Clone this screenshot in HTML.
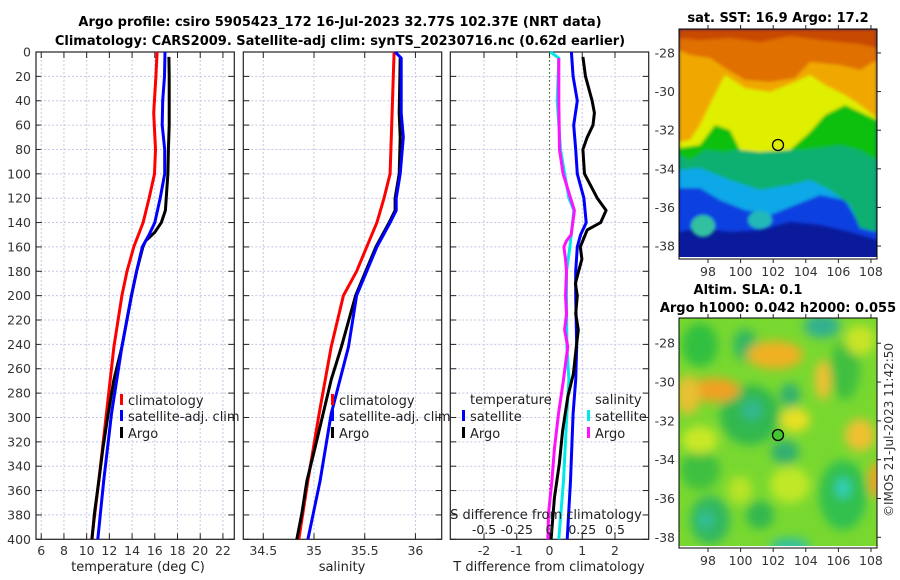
<!DOCTYPE html>
<html><head><meta charset="utf-8"><style>
body{margin:0;background:#fff;}
svg{display:block;font-family:"DejaVu Sans","Liberation Sans",sans-serif;}
</style></head><body>
<svg id="c" width="900" height="580" viewBox="0 0 900 580">
<defs>
<filter id="bl" x="-20%" y="-20%" width="140%" height="140%"><feGaussianBlur stdDeviation="5"/></filter>
<filter id="bl2" x="-20%" y="-20%" width="140%" height="140%"><feGaussianBlur stdDeviation="1.5"/></filter>
<clipPath id="m1"><rect x="679" y="29" width="198" height="230"/></clipPath>
<clipPath id="m2"><rect x="679" y="318" width="198" height="230"/></clipPath>
</defs>
<text x="340" y="26" text-anchor="middle" font-size="13" font-weight="bold">Argo profile: csiro 5905423_172 16-Jul-2023 32.77S 102.37E (NRT data)</text>
<text x="340" y="45" text-anchor="middle" font-size="13" font-weight="bold">Climatology: CARS2009. Satellite-adj clim: synTS_20230716.nc (0.62d earlier)</text>
<g id="plots"></g>
<!-- SST map -->
<g clip-path="url(#m1)">
<rect x="679" y="29" width="198" height="230" fill="#0a1a9a"/>
<g filter="url(#bl2)">
<path d="M679 29H877V240L850 232L820 225L790 222L760 230L730 232L700 228L679 232Z" fill="#1040e0"/>
<path d="M679 29H877V230L860 225L845 200L820 195L795 205L770 215L745 210L720 200L700 188L679 188Z" fill="#10a8e8"/>
<ellipse cx="703" cy="226" rx="12" ry="11" fill="#30c0a0"/>
<ellipse cx="760" cy="220" rx="12" ry="9" fill="#20b8b8"/>
<path d="M679 29H877V232L860 228L850 205L830 190L810 180L790 185L760 190L730 180L700 168L679 170Z" fill="#10b070"/>
<path d="M679 29H877V160L860 150L840 145L820 148L800 150L770 150L745 148L725 152L705 150L690 160L679 155Z" fill="#10c010"/>
<path d="M679 29H877V120L860 112L845 105L825 115L810 132L790 150L760 152L740 150L730 130L715 125L700 145L679 148Z" fill="#e0ee00"/>
<path d="M679 29H877V118L860 105L845 95L825 85L810 75L795 82L770 92L745 88L725 75L712 100L700 125L690 140L679 142Z" fill="#f0a800"/>
<path d="M679 29H877V60L860 70L840 65L810 62L795 78L770 82L745 80L725 68L710 58L690 55L679 50Z" fill="#e07000"/>
<path d="M679 29H877V48L860 44L820 40L790 36L760 42L730 38L700 40L679 38Z" fill="#c84800"/>
</g>
<rect x="679" y="257" width="198" height="2" fill="#fff"/>
</g>
<rect x="679" y="29" width="198" height="230" fill="none" stroke="#000" stroke-width="1"/>
<circle cx="778" cy="145" r="5.5" fill="none" stroke="#000" stroke-width="1.3"/>
<text x="778" y="22" text-anchor="middle" font-size="13" font-weight="bold">sat. SST: 16.9 Argo: 17.2</text>
<!-- SLA map -->
<g clip-path="url(#m2)">
<rect x="679" y="318" width="198" height="230" fill="#78d830"/>
<g filter="url(#bl)">
<ellipse cx="700" cy="345" rx="18" ry="22" fill="#30c040"/>
<ellipse cx="745" cy="345" rx="12" ry="16" fill="#30b860"/>
<ellipse cx="822" cy="326" rx="18" ry="12" fill="#30b090"/>
<ellipse cx="750" cy="415" rx="30" ry="30" fill="#30b850"/>
<ellipse cx="752" cy="410" rx="10" ry="10" fill="#30b890"/>
<ellipse cx="790" cy="395" rx="10" ry="12" fill="#30b070"/>
<ellipse cx="845" cy="370" rx="15" ry="30" fill="#40c040"/>
<ellipse cx="700" cy="470" rx="20" ry="20" fill="#40c040"/>
<ellipse cx="710" cy="520" rx="20" ry="24" fill="#30b860"/>
<ellipse cx="843" cy="495" rx="24" ry="35" fill="#30c050"/>
<ellipse cx="843" cy="488" rx="7" ry="10" fill="#30d0c0"/>
<ellipse cx="706" cy="520" rx="7" ry="8" fill="#30c0a0"/>
<ellipse cx="785" cy="452" rx="14" ry="12" fill="#30b070"/>
<ellipse cx="760" cy="515" rx="14" ry="14" fill="#30b850"/>
<ellipse cx="790" cy="546" rx="20" ry="8" fill="#30c0a0"/>
<ellipse cx="775" cy="355" rx="28" ry="14" fill="#f0b020"/>
<ellipse cx="715" cy="390" rx="25" ry="12" fill="#f0a020"/>
<ellipse cx="688" cy="395" rx="12" ry="20" fill="#e8c030"/>
<ellipse cx="823" cy="380" rx="8" ry="20" fill="#f0c030"/>
<ellipse cx="795" cy="420" rx="15" ry="12" fill="#e8e020"/>
<ellipse cx="860" cy="435" rx="15" ry="16" fill="#f0c030"/>
<ellipse cx="877" cy="480" rx="8" ry="18" fill="#f0a020"/>
<ellipse cx="700" cy="440" rx="18" ry="14" fill="#c8e828"/>
<ellipse cx="790" cy="485" rx="20" ry="18" fill="#c0e828"/>
<ellipse cx="740" cy="490" rx="12" ry="14" fill="#b8e428"/>
<ellipse cx="860" cy="340" rx="15" ry="15" fill="#c8e428"/>
</g>
<rect x="679" y="546" width="198" height="2" fill="#fff"/>
</g>
<rect x="679" y="318" width="198" height="230" fill="none" stroke="#000" stroke-width="1"/>
<circle cx="778" cy="435" r="5.5" fill="#40c830" stroke="#000" stroke-width="1.3"/>
<text x="748" y="294" text-anchor="middle" font-size="13" font-weight="bold">Altim. SLA: 0.1</text>
<text x="778" y="312" text-anchor="middle" font-size="13" font-weight="bold">Argo h1000: 0.042 h2000: 0.055</text>
<text transform="translate(893,430) rotate(-90)" text-anchor="middle" font-size="12" fill="#333">©IMOS 21-Jul-2023 11:42:50</text>
<g id="maps"></g>
</svg>
<script>
// ---- data ----
const tClimDepth = [0,20,50,80,100,120,140,160,180,200,242,297,352,400];
const tClimVal   = [16.2,16.1,15.9,16.06,15.97,15.5,14.97,14.15,13.55,13.1,12.4,11.74,11.07,10.44];
const tSatDepth  = [0,20,40,60,80,100,120,140,150,160,180,200,242,297,352,400];
const tSatVal    = [16.9,16.85,16.7,16.65,16.87,16.87,16.48,16.0,15.5,14.9,14.4,13.94,13.1,12.19,11.5,10.98];
const tArgoDepth = [4,20,60,80,100,130,140,148,155,160,180,200,242,269,297,325,352,379,400];
const tArgoVal   = [17.24,17.27,17.27,17.2,17.15,16.93,16.57,16.0,15.2,14.95,14.4,13.95,13.1,12.4,11.9,11.44,11.07,10.68,10.47];
const sClimDepth = [0,50,100,120,140,160,180,200,242,297,352,400];
const sClimVal   = [35.79,35.77,35.75,35.69,35.62,35.52,35.42,35.29,35.17,35.05,34.94,34.85];
const sSatDepth  = [0,5,50,70,100,120,130,140,160,180,200,242,297,352,400];
const sSatVal    = [35.80,35.86,35.86,35.88,35.85,35.81,35.81,35.75,35.62,35.52,35.42,35.34,35.17,35.06,34.94];
const sArgoDepth = [5,50,70,100,120,130,140,160,180,200,242,269,297,325,352,379,400];
const sArgoVal   = [35.85,35.84,35.85,35.84,35.80,35.80,35.74,35.61,35.51,35.41,35.27,35.17,35.09,35.01,34.93,34.88,34.83];
const dtSatDepth = [0,20,40,60,80,100,120,140,150,160,180,200,242,269,297,352,400];
const dtSatVal   = [0.67,0.72,0.85,0.74,0.8,0.85,1.05,1.12,0.95,0.85,0.8,0.8,0.83,0.8,0.72,0.64,0.54];
const dtArgoDepth = [4,20,40,50,60,70,80,100,120,130,140,146,160,170,180,190,200,215,228,242,264,283,311,338,366,400];
const dtArgoVal   = [1.02,1.1,1.3,1.37,1.33,1.15,1.02,1.07,1.46,1.73,1.56,1.15,0.94,0.99,0.89,0.79,0.85,0.8,0.88,0.82,0.73,0.56,0.4,0.3,0.15,0.05];
const dsSatDepth = [0,5,40,80,120,130,150,160,180,200,242,269,297,352,400];
const dsSatVal   = [0.008,0.071,0.059,0.084,0.148,0.186,0.166,0.156,0.13,0.13,0.133,0.148,0.133,0.107,0.071];
const dsArgoDepth = [5,40,80,100,120,130,150,155,160,170,180,200,215,228,242,256,269,297,325,352,379,400];
const dsArgoVal   = [0.071,0.071,0.076,0.104,0.161,0.19,0.166,0.13,0.11,0.122,0.13,0.122,0.13,0.115,0.14,0.122,0.107,0.069,0.038,0.018,-0.008,-0.013];
const depthTicks = [0,20,40,60,80,100,120,140,160,180,200,220,240,260,280,300,320,340,360,380,400];
const tTicks = [6,8,10,12,14,16,18,20,22];
const sTicks = [34.5,35,35.5,36];
const dtTicks = [-2,-1,0,1,2];
const dsTicks = [-0.5,-0.25,0,0.25,0.5];
const dsTickLabels = ['-0.5','-0.25','0','0.25','0.5'];
const latTicks = [-28,-30,-32,-34,-36,-38];
const lonTicks = [98,100,102,104,106,108];

const NS='http://www.w3.org/2000/svg';
const root=document.getElementById('plots');
function mk(tag,attrs,parent){const e=document.createElementNS(NS,tag);for(const k in attrs)e.setAttribute(k,attrs[k]);(parent||root).appendChild(e);return e;}
const Y0=52,Y1=539.3;
const yD=d=>Y0+d/400*(Y1-Y0);
const BLUE='#0000ff';

function panel(name,L,R,dmin,dmax,ticks,labels,showY){
  const x=v=>L+(v-dmin)/(dmax-dmin)*(R-L);
  const g=mk('g',{});
  
  
  depthTicks.forEach(d=>{
    const l=mk('line',{x1:L,x2:R,y1:yD(d),y2:yD(d),stroke:'#c4c8e6','stroke-width':1,'stroke-dasharray':'2,2'},g);
    
    
    mk('line',{x1:L,x2:L+6,y1:yD(d),y2:yD(d),stroke:'#222'},g);
    mk('line',{x1:R-6,x2:R,y1:yD(d),y2:yD(d),stroke:'#222'},g);
    if(showY){const t=mk('text',{x:L-5,y:yD(d)+4.5,'text-anchor':'end','font-size':12.5,fill:'#333'},g);t.textContent=d;
      
      }
  });
  ticks.forEach((v,i)=>{
    const l=mk('line',{x1:x(v),x2:x(v),y1:Y0,y2:Y1,stroke:'#c4c8e6','stroke-width':1,'stroke-dasharray':'2,2'},g);
    
    
    mk('line',{x1:x(v),x2:x(v),y1:Y0,y2:Y0+6,stroke:'#222'},g);
    mk('line',{x1:x(v),x2:x(v),y1:Y1-6,y2:Y1,stroke:'#222'},g);
    const t=mk('text',{x:x(v),y:555,'text-anchor':'middle','font-size':12.5,fill:'#333'},g);t.textContent=labels?labels[i]:v;
    
    
  });
  const fr=mk('rect',{x:L,y:Y0,width:R-L,height:Y1-Y0,fill:'none',stroke:'#222','stroke-width':1.2},g);
  
  
  return {x,g};
}
function series(p,dep,val,color,name,sc){
  const pts=dep.map((d,i)=>(p.x(val[i]*(sc||1))).toFixed(1)+','+yD(d).toFixed(1)).join(' ');
  const pl=mk('polyline',{points:pts,fill:'none',stroke:color,'stroke-width':3,'stroke-linejoin':'round'},p.g);
  
  
}
function txt(g,x,y,s,name,anchor,size){const t=mk('text',{x:x,y:y,'font-size':size||13,fill:'#222','text-anchor':anchor||'start'},g);t.textContent=s;
  
  return t;}
function legItem(g,x,y,color,label,name){
  const r=mk('rect',{x:x,y:y-11,width:3,height:11,fill:color},g);
  
  
  txt(g,x+8,y,label,name);
}

// panel 1
const p1=panel('temperature-panel',36,234.3,5.54,23.0,tTicks,null,true);
series(p1,tClimDepth,tClimVal,'#ff0000','temp-climatology-line');
series(p1,tArgoDepth,tArgoVal,'#000','temp-argo-line');
series(p1,tSatDepth,tSatVal,BLUE,'temp-satellite-line');
legItem(p1.g,120,405,'#ff0000','climatology','legend-climatology');
legItem(p1.g,120,421,BLUE,'satellite-adj. clim','legend-satellite');
legItem(p1.g,120,438,'#000','Argo','legend-argo');
txt(p1.g,138,571,'temperature (deg C)','x-axis-title-temperature','middle',13);

// panel 2
const p2=panel('salinity-panel',243.3,441.7,34.303,36.259,sTicks,null,false);
series(p2,sClimDepth,sClimVal,'#ff0000','sal-climatology-line');
series(p2,sArgoDepth,sArgoVal,'#000','sal-argo-line');
series(p2,sSatDepth,sSatVal,BLUE,'sal-satellite-line');
legItem(p2.g,331,405,'#ff0000','climatology','legend-climatology-2');
legItem(p2.g,331,421,BLUE,'satellite-adj. clim','legend-satellite-2');
legItem(p2.g,331,438,'#000','Argo','legend-argo-2');
txt(p2.g,342,571,'salinity','x-axis-title-salinity','middle',13);

// panel 3
const p3=panel('difference-panel',450.3,648.7,-3.03,3.03,dtTicks,null,false);
mk('line',{x1:p3.x(0),x2:p3.x(0),y1:Y0,y2:Y1,stroke:'#556b2f','stroke-width':1.2,'stroke-dasharray':'1.5,2.5'},p3.g);
series(p3,dsSatDepth,dsSatVal,'#00e8e8','sdiff-satellite-line',4);
series(p3,dsArgoDepth,dsArgoVal,'#ff10ff','sdiff-argo-line',4);
series(p3,dtSatDepth,dtSatVal,BLUE,'tdiff-satellite-line');
series(p3,dtArgoDepth,dtArgoVal,'#000','tdiff-argo-line');
txt(p3.g,470,404,'temperature','legend-temperature-heading');
legItem(p3.g,462,421,BLUE,'satellite','legend-t-satellite');
legItem(p3.g,462,438,'#000','Argo','legend-t-argo');
txt(p3.g,595,404,'salinity','legend-salinity-heading');
legItem(p3.g,587,421,'#00e8e8','satellite','legend-s-satellite');
legItem(p3.g,587,438,'#ff10ff','Argo','legend-s-argo');
txt(p3.g,546,519,'S difference from climatology','s-axis-title','middle',13);
dsTicks.forEach((v,i)=>{txt(p3.g,p3.x(v*4),534,dsTickLabels[i],'s-tick-label','middle',12.5);});
txt(p3.g,549,571,'T difference from climatology','x-axis-title-tdiff','middle',13);

// map ticks
const mg=document.getElementById('maps');
function mapAxes(name,top,bot,latTop,latBot){
  const L=679,R=877,lonL=96.22,lonR=108.37;
  const xl=v=>L+(v-lonL)/(lonR-lonL)*(R-L);
  const yl=v=>top+(latTop-v)/(latTop-latBot)*(bot-top);
  const g=mk('g',{},mg);
  
  
  latTicks.forEach(v=>{
    mk('line',{x1:R,x2:R+4,y1:yl(v),y2:yl(v),stroke:'#222'},g);
    const t=mk('text',{x:L-4,y:yl(v)+4.5,'text-anchor':'end','font-size':12.5,fill:'#333'},g);t.textContent=v;
    
    
  });
  lonTicks.forEach(v=>{
    mk('line',{x1:xl(v),x2:xl(v),y1:top-4,y2:top,stroke:'#222'},g);
    mk('line',{x1:xl(v),x2:xl(v),y1:bot,y2:bot+4,stroke:'#222'},g);
    const t=mk('text',{x:xl(v),y:bot+17,'text-anchor':'middle','font-size':12.5,fill:'#333'},g);t.textContent=v;
    
    
  });
}
mapAxes('sst-map-axes',29,259,-26.76,-38.67);
mapAxes('sla-map-axes',318,548,-26.7,-38.55);
</script>
</body></html>
